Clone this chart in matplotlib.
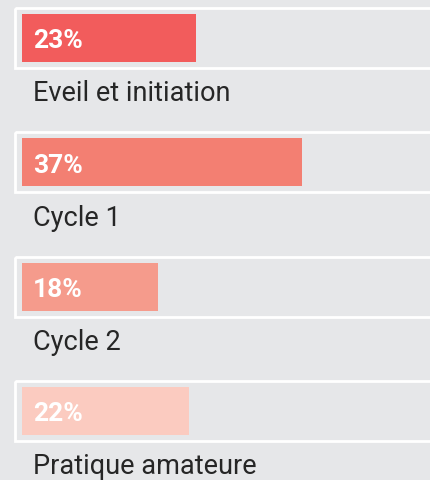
import numpy as np
import matplotlib.pyplot as plt
from matplotlib.patches import Rectangle

categories = ['Eveil et initiation', 'Cycle 1', 'Cycle 2', 'Pratique amateure']
shares = [23, 37, 18, 22]
colors = ['#f25c5c', '#f37f72', '#f59b8c', '#fbcbc0']

bg = '#e6e7e9'
px_per_pct = 7.57      # horizontal scale in the picture
row_px = 124.3         # distance between rows

fig = plt.figure(figsize=(4.3, 4.81), dpi=100, facecolor=bg)
ax = fig.add_axes([0, 0, 1, 1])
ax.set_facecolor(bg)

# put 0% at x=22px and row 0 centred at y=39px
ax.set_xlim(-22 / px_per_pct, (430 - 22) / px_per_pct)
top = -39 / row_px
ax.set_ylim(top + 481 / row_px, top)

y = np.arange(len(categories))
ax.barh(y, shares, height=48 / row_px, color=colors, zorder=2)

for i, (cat, val) in enumerate(zip(categories, shares)):
    # white frame around each bar track
    ax.add_patch(Rectangle((-7 / px_per_pct, i - 30 / row_px), 80, 60 / row_px,
                           fill=False, edgecolor='white', lw=2, zorder=1))
    ax.text(11 / px_per_pct, i + 9.5 / row_px, f'{val}%', color='white',
            fontsize=19, fontweight='bold', family='Roboto', va='baseline', zorder=3)
    ax.text(11 / px_per_pct, i + 62.5 / row_px, cat, color='#262626',
            fontsize=19.5, family='Roboto', va='baseline')

ax.axis('off')
fig.savefig('out.png', dpi=100, facecolor=bg)
